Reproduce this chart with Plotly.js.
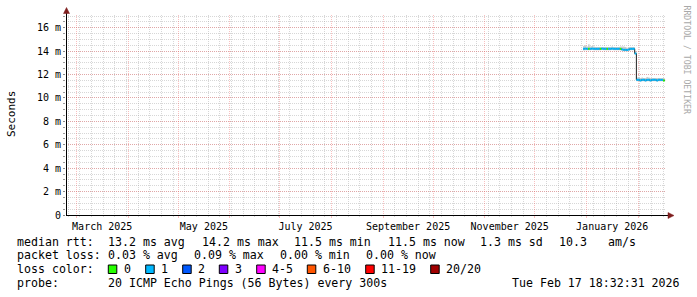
<!DOCTYPE html>
<html><head><meta charset="utf-8">
<script src="https://cdn.plot.ly/plotly-3.0.1.min.js"></script>
<style>html,body{margin:0;padding:0;background:#fff;} #chart{width:697px;height:297px;}</style>
</head><body><div id="chart"></div>
<script>
// ---------------- data ----------------
const dates = ['2025-12-30','2025-12-31',
 '2026-01-01','2026-01-02','2026-01-03','2026-01-04','2026-01-05','2026-01-06','2026-01-07','2026-01-08','2026-01-09','2026-01-10',
 '2026-01-11','2026-01-12','2026-01-13','2026-01-14','2026-01-15','2026-01-16','2026-01-17','2026-01-18','2026-01-19','2026-01-20',
 '2026-01-21','2026-01-22','2026-01-23','2026-01-24','2026-01-25','2026-01-26','2026-01-27','2026-01-28','2026-01-29','2026-01-30','2026-01-31',
 '2026-02-01','2026-02-02','2026-02-03','2026-02-04','2026-02-05','2026-02-06','2026-02-07','2026-02-08','2026-02-09','2026-02-10',
 '2026-02-11','2026-02-12','2026-02-13','2026-02-14','2026-02-15','2026-02-16','2026-02-17'];
const medianMs = [14.2,14.22,
 14.2,14.2,14.2,14.22,14.2,14.2,14.2,14.2,14.2,14.22,
 14.2,14.2,14.2,14.2,14.2,14.22,14.2,14.2,14.2,14.2,
 14.2,14.15,14.12,14.12,14.1,14.15,14.2,14.2,14.2,13.8,11.55,
 11.55,11.5,11.55,11.55,11.5,11.55,11.55,11.5,11.55,11.55,
 11.55,11.5,11.55,11.55,11.55,11.5,11.55];
const smokeLoMs = [14.05,14.08,
 14.08,14.08,14.08,14.1,14.08,14.08,14.08,14.08,14.08,14.1,
 14.08,14.08,14.08,14.08,14.08,14.1,14.08,14.08,14.08,14.08,
 14.08,14.03,14.0,14.0,13.98,14.03,14.08,14.08,14.08,13.7,11.42,
 11.42,11.38,11.42,11.42,11.38,11.42,11.42,11.38,11.42,11.42,
 11.42,11.38,11.42,11.42,11.42,11.38,11.42];
const smokeHiMs = [14.45,14.5,
 14.4,14.6,14.4,14.45,14.4,14.35,14.35,14.35,14.35,14.35,
 14.35,14.35,14.35,14.35,14.35,14.4,14.35,14.35,14.35,14.35,
 14.4,14.4,14.4,14.35,14.3,14.35,14.35,14.35,14.35,14.0,11.75,
 11.8,11.7,11.75,11.7,11.7,11.8,11.75,11.7,11.7,11.7,
 11.7,11.7,11.7,11.7,11.7,11.7,11.7];
// loss category index per day (0 = no loss, 1 = one ping lost, ...)
const lossIdx = [1,1,
 1,0,1,1,1,1,1,1,0,1,
 1,1,0,1,1,1,1,1,1,1,
 0,1,1,1,1,1,1,1,1,1,1,
 1,1,1,1,1,1,1,1,1,1,
 1,1,1,1,1,0,1];
const lossLabels = ['0','1','2','3','4-5','6-10','11-19','20/20'];
const lossColors = ['#26ff00','#00b8ff','#0059ff','#7e00ff','#ff00ff','#ff5500','#ff0000','#a10000'];
const yTickVals = [0,2,4,6,8,10,12,14,16];
const yTickText = ['0','2 m','4 m','6 m','8 m','10 m','12 m','14 m','16 m'];
const monthLabelDates = ['2025-03-16 12:00','2025-05-16 12:00','2025-07-16 12:00','2025-09-16','2025-11-16','2026-01-16 12:00'];
const monthLabels = ['March 2025','May 2025','July 2025','September 2025','November 2025','January 2026'];
const rttStats = ['13.2 ms avg','14.2 ms max','11.5 ms min','11.5 ms now','1.3 ms sd','10.3','am/s'];
const lossStats = ['0.03 % avg','0.09 % max','0.00 % min','0.00 % now'];
const probeText = '20 ICMP Echo Pings (56 Bytes) every 300s';
const stampText = 'Tue Feb 17 18:32:31 2026';
const rangeStart = '2025-02-22 18:32:31', rangeEnd = '2026-02-17 18:32:31';

// ---------------- layout constants ----------------
const L = 66, T = 15, W = 600, H = 200;
const px = x => (x - L) / W;
const py = y => (T + H - y) / H;
const MONO = 'DejaVu Sans Mono';
const rttX = [107.3, 200.7, 293.3, 386.7, 479.3, 558.3, 606.7];
const lossX = [107.3, 193.3, 279.3, 365];
const boxX = [108.3, 145.7, 182.7, 219.3, 256.7, 307.3, 365.7, 430.7];
const rowY = [241.5, 255.4, 269.3, 283.3];

// ---------------- traces ----------------
const traces = [];
traces.push({x: dates, y: smokeLoMs, mode: 'lines', line: {width: 0, shape: 'hv'}, hoverinfo: 'skip'});
traces.push({x: dates, y: smokeHiMs, mode: 'lines', line: {width: 0, shape: 'hv'}, fill: 'tonexty', fillcolor: '#cdcdcd', hoverinfo: 'skip'});
traces.push({x: dates, y: medianMs, mode: 'lines', line: {width: 1, color: '#202020', shape: 'hv'}, hoverinfo: 'skip'});
lossColors.forEach((c, k) => {
  const xs = [], ys = [];
  for (let i = 0; i < dates.length - 1; i++) {
    if (lossIdx[i] === k) { xs.push(dates[i], dates[i + 1], null); ys.push(medianMs[i], medianMs[i], null); }
  }
  if (xs.length) traces.push({x: xs, y: ys, mode: 'lines', line: {width: 2, color: c}, hoverinfo: 'skip'});
});
traces.push({x: [], y: [], xaxis: 'x2', mode: 'lines', hoverinfo: 'skip'});

// ---------------- annotations ----------------
const ann = [];
function txt(text, x, y, opts) {
  ann.push(Object.assign({text: text, xref: 'paper', yref: 'paper', x: px(x), y: py(y), xanchor: 'left', yanchor: 'middle',
    showarrow: false, borderpad: 0, font: {family: MONO, size: 11.6, color: '#000'}}, opts || {}));
}
txt('median rtt:', 16, rowY[0]);
rttStats.forEach((s, i) => txt(s, rttX[i], rowY[0]));
txt('packet loss:', 16, rowY[1]);
lossStats.forEach((s, i) => txt(s, lossX[i], rowY[1]));
txt('loss color:', 16, rowY[2]);
lossLabels.forEach((s, i) => txt(s, boxX[i] + 14.5, rowY[2]));
txt('probe:', 16, rowY[3]);
txt(probeText, 107.3, rowY[3]);
txt(stampText, 680.5, rowY[3], {xanchor: 'right'});
txt('Seconds', 11, 114, {xanchor: 'center', textangle: -90, font: {family: MONO, size: 11, color: '#000'}});
txt('RRDTOOL / TOBI OETIKER', 686.5, 60, {xanchor: 'center', textangle: 90, font: {family: MONO, size: 8.2, color: '#a8a8a8'}});

// ---------------- shapes ----------------
const shapes = [];
lossColors.forEach((c, i) => {
  shapes.push({type: 'rect', xref: 'paper', yref: 'paper', x0: px(boxX[i]), x1: px(boxX[i] + 8.5), y0: py(273.5), y1: py(265),
    fillcolor: c, line: {color: '#000', width: 1}});
});
const arrowColor = '#7f1f1f';
shapes.push({type: 'line', xref: 'paper', yref: 'paper', x0: px(66.5), x1: px(66.5), y0: py(215), y1: py(12), line: {color: '#000', width: 1}});
shapes.push({type: 'line', xref: 'paper', yref: 'paper', x0: px(66), x1: px(669), y0: py(215.5), y1: py(215.5), line: {color: '#000', width: 1}});
shapes.push({type: 'path', xref: 'paper', yref: 'paper', fillcolor: arrowColor, line: {color: arrowColor, width: 0.5},
  path: `M ${px(66.5)},${py(7.5)} L ${px(63.5)},${py(13.5)} L ${px(69.5)},${py(13.5)} Z`});
shapes.push({type: 'path', xref: 'paper', yref: 'paper', fillcolor: arrowColor, line: {color: arrowColor, width: 0.5},
  path: `M ${px(674)},${py(215.5)} L ${px(668)},${py(212.5)} L ${px(668)},${py(218.5)} Z`});

const majorGrid = 'rgba(240,90,90,0.38)';
const minorGrid = 'rgba(160,160,160,0.42)';
const layout = {
  width: 697, height: 297, margin: {l: L, r: 697 - L - W, t: T, b: 297 - T - H, pad: 0},
  paper_bgcolor: '#fff', plot_bgcolor: '#fff', showlegend: false,
  xaxis: {type: 'date', range: [rangeStart, rangeEnd], tickmode: 'linear', tick0: '2025-03-01', dtick: 'M1',
    showticklabels: false, showgrid: true, gridcolor: majorGrid, griddash: '1px,1px', gridwidth: 1,
    ticks: 'outside', ticklen: 2, tickcolor: majorGrid, showline: false, zeroline: false, fixedrange: true,
    minor: {tickmode: 'linear', tick0: '2025-03-03', dtick: 7 * 86400000, showgrid: true, gridcolor: minorGrid,
      griddash: '1px,1px', ticks: 'outside', ticklen: 1, tickcolor: minorGrid}},
  xaxis2: {type: 'date', overlaying: 'x', anchor: 'y', side: 'bottom', range: [rangeStart, rangeEnd], tickmode: 'array',
    tickvals: monthLabelDates, ticktext: monthLabels, showgrid: false, ticks: '', showline: false, zeroline: false,
    ticklabelstandoff: 4, tickfont: {family: MONO, size: 10, color: '#000'}, fixedrange: true},
  yaxis: {range: [0, 17.09], tickmode: 'array', tickvals: yTickVals, ticktext: yTickText, showgrid: true,
    gridcolor: majorGrid, griddash: '1px,1px', ticks: 'outside', ticklen: 2, tickcolor: '#888', showline: false, zeroline: false,
    tickfont: {family: MONO, size: 10, color: '#000'}, fixedrange: true,
    minor: {tickmode: 'linear', tick0: 0, dtick: 0.5, showgrid: true, gridcolor: minorGrid, griddash: '1px,1px',
      ticks: 'outside', ticklen: 2, tickcolor: '#999'}},
  annotations: ann, shapes: shapes
};
Plotly.newPlot('chart', traces, layout, {displayModeBar: false, staticPlot: true});
</script></body></html>
